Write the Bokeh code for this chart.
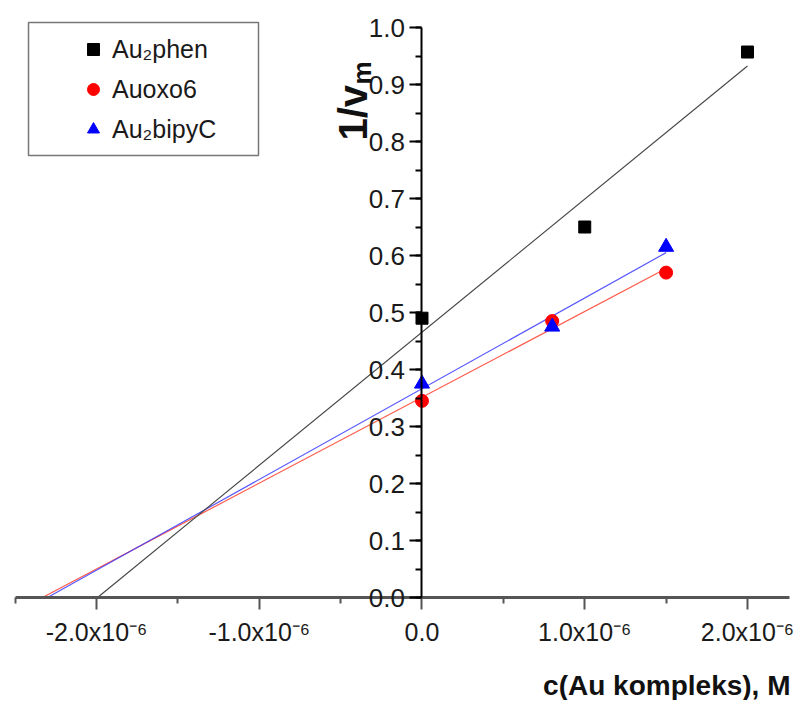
import math
import numpy as np
from bokeh.plotting import figure
from bokeh.models import (FixedTicker, SingleIntervalTicker, CustomJSTickFormatter, NumeralTickFormatter,
                          Label, Legend, LegendItem, Range1d, BoxAnnotation)
from bokeh.embed import file_html
from bokeh.resources import INLINE

# ---- data ----
series_names = ["Au₂phen", "Auoxo6", "Au₂bipyC"]
phen_x = [0.0, 1.0e-6, 2.0e-6]
phen_y = [0.49, 0.65, 0.957]
oxo_x = [0.0, 0.8e-6, 1.5e-6]
oxo_y = [0.345, 0.485, 0.57]
bipy_x = [0.0, 0.8e-6, 1.5e-6]
bipy_y = [0.375, 0.475, 0.615]

x_ticks = [-2.0e-6, -1.0e-6, 0.0, 1.0e-6, 2.0e-6]
x_minor_ticks = [-2.5e-6, -1.5e-6, -0.5e-6, 0.5e-6, 1.5e-6]
x_tick_labels = ["-2.0x10⁻⁶", "-1.0x10⁻⁶", "0.0", "1.0x10⁻⁶", "2.0x10⁻⁶"]
x_title = "c(Au kompleks), M"
y_title = "1/v"
y_title_sub = "m"

FONT = "Liberation Sans"
W, H = 800, 700

p = figure(width=W, height=H, output_backend="svg", toolbar_location=None,
           x_range=Range1d(-2.5899e-6, 2.3257e-6), y_range=Range1d(-0.1807, 1.0474),
           min_border=0)
p.min_border_left = 0
p.min_border_right = 0
p.min_border_top = 0
p.min_border_bottom = 0
p.grid.visible = False
p.outline_line_color = None
p.background_fill_color = "white"
p.border_fill_color = "white"

# ---- x axis (at y = 0) ----
xa = p.xaxis[0]
xa.fixed_location = 0
xa.bounds = (-2.5e-6, 2.26e-6)
xa.ticker = FixedTicker(ticks=x_ticks, minor_ticks=x_minor_ticks)
xa.formatter = CustomJSTickFormatter(args=dict(tvals=x_ticks, tlabels=x_tick_labels), code="""
let best = 0, bd = Infinity;
for (let i = 0; i < tvals.length; i++) {
  const d = Math.abs(tvals[i] - tick);
  if (d < bd) { bd = d; best = i; }
}
return tlabels[best];
""")
xa.axis_line_color = "#555555"
xa.axis_line_width = 3
xa.major_tick_line_color = "#555555"
xa.minor_tick_line_color = "#555555"
xa.major_tick_line_width = 2
xa.minor_tick_line_width = 2
xa.major_tick_in = 0
xa.major_tick_out = 12
xa.minor_tick_in = 0
xa.minor_tick_out = 6
xa.major_label_text_font = FONT
xa.major_label_text_font_size = "25px"
xa.major_label_text_color = "#1a1a1a"
xa.major_label_standoff = 8

# ---- y axis (at x = 0) ----
ya = p.yaxis[0]
ya.fixed_location = 0
ya.bounds = (0.0, 1.0)
ya.ticker = SingleIntervalTicker(interval=0.1, num_minor_ticks=2)
ya.formatter = NumeralTickFormatter(format="0.0")
ya.axis_line_color = "black"
ya.axis_line_width = 2
ya.major_tick_line_color = "black"
ya.minor_tick_line_color = "black"
ya.major_tick_line_width = 2
ya.minor_tick_line_width = 2
ya.major_tick_in = 0
ya.major_tick_out = 12
ya.minor_tick_in = 0
ya.minor_tick_out = 6
ya.major_label_text_font = FONT
ya.major_label_text_font_size = "26px"
ya.major_label_text_color = "#1a1a1a"
ya.major_label_standoff = 5

# ---- linear fits (from the data) ----
def fit_line(xs, ys):
    m, b = np.polyfit(xs, ys, 1)
    x0 = -b / m
    x1 = max(xs)
    return [x0, x1], [m * x0 + b, m * x1 + b]

fx, fy = fit_line(oxo_x, oxo_y)
p.line(fx, fy, line_color="#ff5a4a", line_width=1.2)
fx, fy = fit_line(bipy_x, bipy_y)
p.line(fx, fy, line_color="#3a3aff", line_width=1.2, line_alpha=0.85)
fx, fy = fit_line(phen_x, phen_y)
p.line(fx, fy, line_color="#444444", line_width=1.1)

r1 = p.scatter(phen_x, phen_y, marker="square", size=12, fill_color="black", line_color="black")
r2 = p.scatter(oxo_x, oxo_y, marker="circle", size=13, fill_color="red", line_color="red")
r3 = p.scatter(bipy_x, bipy_y, marker="triangle", size=15, fill_color="blue", line_color="blue")

# ---- legend box + legend ----
p.add_layout(BoxAnnotation(left=-2.4178e-6, right=-1.0046e-6, bottom=0.7754, top=1.0088,
                           fill_color="white", fill_alpha=1.0,
                           line_color="#777777", line_width=1.5, line_alpha=1.0))

legend = Legend(items=[LegendItem(label=series_names[0], renderers=[r1]),
                       LegendItem(label=series_names[1], renderers=[r2]),
                       LegendItem(label=series_names[2], renderers=[r3])],
                location=(78, 556), orientation="vertical")
legend.label_text_font = FONT
legend.label_text_font_size = "25px"
legend.label_text_color = "#1a1a1a"
legend.glyph_width = 30
legend.glyph_height = 30
legend.label_height = 30
legend.label_standoff = 4
legend.spacing = 10
legend.padding = 0
legend.margin = 0
legend.border_line_color = None
legend.background_fill_alpha = 0.0
p.add_layout(legend)

# ---- axis titles ----
p.add_layout(Label(x=2.2642e-6, y=-0.1544, text=x_title, text_align="right", text_baseline="middle",
                   text_font=FONT, text_font_size="28px", text_font_style="bold", text_color="#111111"))
p.add_layout(Label(x=-0.427e-6, y=0.8018, text=y_title, angle=math.pi / 2, text_align="left",
                   text_baseline="middle", text_font=FONT, text_font_size="40px",
                   text_font_style="bold", text_color="#111111"))
p.add_layout(Label(x=-0.3656e-6, y=0.9, text=y_title_sub, angle=math.pi / 2, text_align="left",
                   text_baseline="middle", text_font=FONT, text_font_size="26px",
                   text_font_style="bold", text_color="#111111"))

open("out.html", "w").write(file_html(p, INLINE))
